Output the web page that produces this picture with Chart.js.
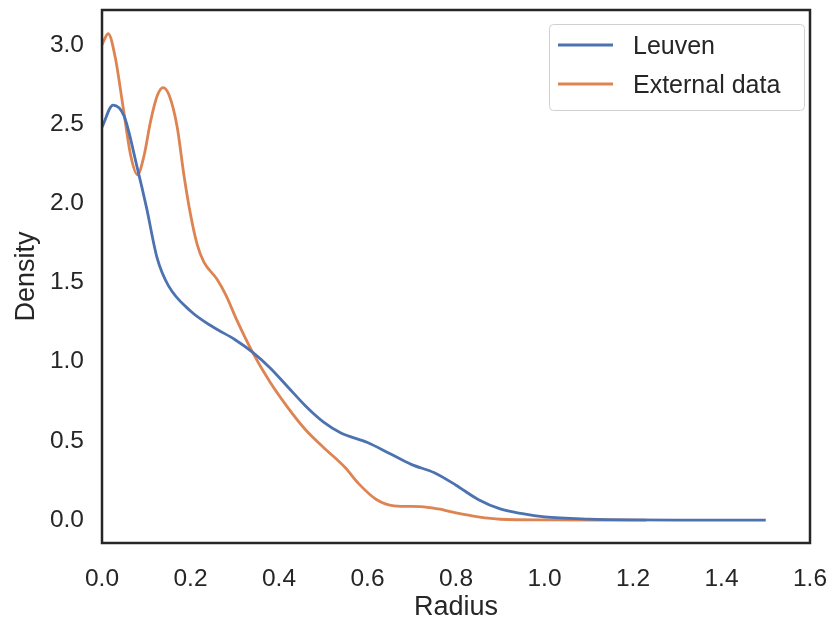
<!DOCTYPE html>
<html>
<head>
<meta charset="utf-8">
<script src="https://cdn.jsdelivr.net/npm/chart.js@4"></script>
<style>
  html, body { margin: 0; padding: 0; background: #fff; }
  #wrap { width: 833px; height: 624px; }
</style>
</head>
<body>
<div id="wrap"><canvas id="myChart" width="833" height="624"></canvas></div>
<script>
// Kernel density estimates of radius
var leuvenX = [0, 0.025, 0.05, 0.08, 0.1, 0.125, 0.15, 0.2, 0.25, 0.3, 0.34, 0.38, 0.42, 0.46, 0.5,
               0.54, 0.6, 0.65, 0.7, 0.75, 0.8, 0.85, 0.9, 0.95, 1.0, 1.1, 1.2, 1.3, 1.5];
var leuvenY = [2.48, 2.62, 2.55, 2.22, 1.98, 1.65, 1.48, 1.32, 1.22, 1.14, 1.06, 0.96, 0.84, 0.72, 0.62,
               0.55, 0.49, 0.42, 0.35, 0.30, 0.22, 0.13, 0.07, 0.04, 0.02, 0.006, 0.001, 0, 0];

var externalX = [0, 0.014, 0.03, 0.047, 0.065, 0.08, 0.095, 0.11, 0.125, 0.138, 0.152, 0.17, 0.185,
                 0.2, 0.215, 0.23, 0.26, 0.28, 0.305, 0.34, 0.38, 0.42, 0.46, 0.5, 0.55, 0.58, 0.62,
                 0.66, 0.72, 0.76, 0.8, 0.85, 0.9, 1.0, 1.23];
var externalY = [3.0, 3.07, 2.92, 2.62, 2.3, 2.18, 2.3, 2.52, 2.68, 2.73, 2.68, 2.48, 2.18,
                 1.93, 1.74, 1.63, 1.52, 1.42, 1.26, 1.06, 0.87, 0.71, 0.57, 0.46, 0.33, 0.23, 0.13,
                 0.09, 0.085, 0.07, 0.045, 0.02, 0.005, 0.001, 0];

var xTicks = [0, 0.2, 0.4, 0.6, 0.8, 1.0, 1.2, 1.4, 1.6];
var yTicks = [0, 0.5, 1.0, 1.5, 2.0, 2.5, 3.0];

var seriesNames = ['Leuven', 'External data'];
var seriesColors = ['#4c72b0', '#dd8452'];

var textColor = '#262626';
var fontFamily = '"Liberation Sans", Arial, sans-serif';

function toPoints(xs, ys) {
    return xs.map(function(x, i) { return {x: x, y: ys[i]}; });
}

// Frame around the plot area plus a legend box in the upper right
var framePlugin = {
    id: 'frame',
    afterDraw: function(chart) {
        var c = chart.ctx, a = chart.chartArea;
        c.save();
        c.strokeStyle = textColor;
        c.lineWidth = 2.5;
        c.strokeRect(a.left, a.top, a.right - a.left, a.bottom - a.top);

        var bx = 549, by = 24, bw = 255, bh = 86;
        c.fillStyle = 'rgba(255,255,255,0.8)';
        c.strokeStyle = '#d0d0d0';
        c.lineWidth = 1;
        c.beginPath();
        c.roundRect(bx + 0.5, by + 0.5, bw, bh, 4);
        c.fill();
        c.stroke();

        c.font = '25px ' + fontFamily;
        c.textBaseline = 'middle';
        c.textAlign = 'left';
        chart.data.datasets.forEach(function(ds, i) {
            var ly = by + 21 + i * 39;
            c.strokeStyle = ds.borderColor;
            c.lineWidth = 2.8;
            c.beginPath();
            c.moveTo(bx + 9, ly);
            c.lineTo(bx + 64, ly);
            c.stroke();
            c.fillStyle = textColor;
            c.fillText(ds.label, bx + 84, ly + 2);
        });
        c.restore();
    }
};

var ctx = document.getElementById('myChart');

var myChart = new Chart(ctx, {
    type: 'line',
    data: {
        datasets: [{
            label: seriesNames[0],
            data: toPoints(leuvenX, leuvenY),
            borderColor: seriesColors[0],
            borderWidth: 2.8,
            pointRadius: 0,
            cubicInterpolationMode: 'monotone',
            fill: false
        }, {
            label: seriesNames[1],
            data: toPoints(externalX, externalY),
            borderColor: seriesColors[1],
            borderWidth: 2.8,
            pointRadius: 0,
            cubicInterpolationMode: 'monotone',
            fill: false
        }]
    },
    options: {
        responsive: false,
        animation: false,
        layout: { padding: { left: 0, right: 23, top: 10, bottom: 0 } },
        plugins: {
            legend: { display: false },
            tooltip: { enabled: false }
        },
        scales: {
            x: {
                type: 'linear',
                min: 0,
                max: 1.6,
                grid: { display: false, drawTicks: false },
                border: { display: false },
                afterBuildTicks: function(scale) {
                    scale.ticks = xTicks.map(function(v) { return {value: v}; });
                },
                afterFit: function(scale) {
                    scale.height = 81;
                    scale.paddingLeft = 0;
                    scale.paddingRight = 0;
                },
                ticks: {
                    padding: 22,
                    color: textColor,
                    font: { family: fontFamily, size: 24.5 },
                    maxRotation: 0,
                    callback: function(v) { return v.toFixed(1); }
                },
                title: {
                    display: true,
                    text: 'Radius',
                    color: textColor,
                    font: { family: fontFamily, size: 27 },
                    padding: { top: 2, bottom: 0 }
                }
            },
            y: {
                type: 'linear',
                min: -0.145,
                max: 3.22,
                grid: { display: false, drawTicks: false },
                border: { display: false },
                afterBuildTicks: function(scale) {
                    scale.ticks = yTicks.map(function(v) { return {value: v}; });
                },
                afterFit: function(scale) {
                    scale.width = 102;
                    scale.paddingTop = 0;
                    scale.paddingBottom = 0;
                },
                ticks: {
                    padding: 18,
                    color: textColor,
                    font: { family: fontFamily, size: 24.5 },
                    callback: function(v) { return v.toFixed(1); }
                },
                title: {
                    display: true,
                    text: 'Density',
                    color: textColor,
                    font: { family: fontFamily, size: 27 },
                    padding: { top: 10, bottom: 4 }
                }
            }
        }
    },
    plugins: [framePlugin]
});
</script>
</body>
</html>
